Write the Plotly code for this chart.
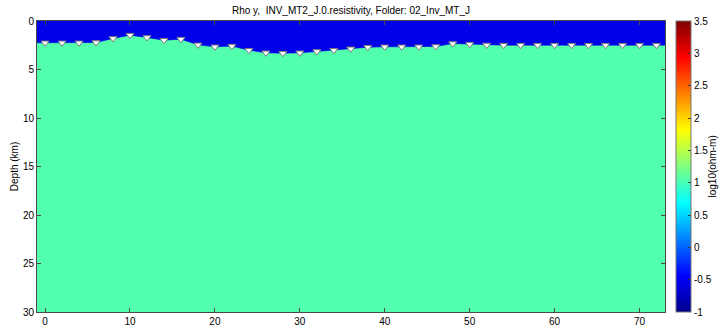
import plotly.graph_objects as go
from plotly.colors import sample_colorscale

# Station positions along the profile (km) and seafloor depth at each site (km)
station_x = [0, 2, 4, 6, 8, 10, 12, 14, 16, 18, 20, 22, 24, 26, 28, 30, 32, 34, 36,
             38, 40, 42, 44, 46, 48, 50, 52, 54, 56, 58, 60, 62, 64, 66, 68, 70, 72]
station_depth = [2.25, 2.25, 2.25, 2.22, 1.80, 1.46, 1.70, 1.98, 1.87, 2.46, 2.66,
                 2.59, 3.01, 3.28, 3.32, 3.28, 3.14, 3.01, 2.87, 2.70, 2.66, 2.66,
                 2.66, 2.63, 2.33, 2.39, 2.47, 2.49, 2.49, 2.49, 2.49, 2.49, 2.49,
                 2.49, 2.49, 2.49, 2.49]

# Model extent
x_limits = [-0.95, 73.0]
depth_limits = [0, 30]

# log10 resistivity of the two model units
seawater_log_rho = -0.55
basement_log_rho = 1.05

# Colour scale limits and colourbar ticks
c_min, c_max = -1.0, 3.5
cbar_ticks = [-1, -0.5, 0, 0.5, 1, 1.5, 2, 2.5, 3, 3.5]
cbar_labels = ["-1", "-0.5", "0", "0.5", "1", "1.5", "2", "2.5", "3", "3.5"]
x_ticks = [0, 10, 20, 30, 40, 50, 60, 70]
y_ticks = [0, 5, 10, 15, 20, 25, 30]

# MATLAB-style jet colormap
jet = [
    [0.0, "rgb(0,0,143)"],
    [0.125, "rgb(0,0,255)"],
    [0.375, "rgb(0,255,255)"],
    [0.625, "rgb(255,255,0)"],
    [0.875, "rgb(255,0,0)"],
    [1.0, "rgb(128,0,0)"],
]

FONT = "Liberation Sans, Arial, Helvetica, sans-serif"
FRAME = "#4a4a4a"

fig = go.Figure()

# Basement: one cell covering the whole section, coloured through the colour scale
fig.add_trace(go.Heatmap(
    x=x_limits,
    y=depth_limits,
    z=[[basement_log_rho]],
    colorscale=jet,
    zmin=c_min,
    zmax=c_max,
    hoverinfo="skip",
    colorbar=dict(
        x=1.0175, xanchor="left", xref="paper", xpad=0,
        y=0.5, yanchor="middle", len=1.0, lenmode="fraction", ypad=0,
        thickness=15, thicknessmode="pixels",
        outlinewidth=1, outlinecolor="#777777",
        ticks="inside", ticklen=3, tickcolor="#333333",
        tickvals=cbar_ticks, ticktext=cbar_labels,
        tickfont=dict(family=FONT, size=10, color="black"),
    ),
))

# Seawater layer above the seafloor
water_color = sample_colorscale(jet, [(seawater_log_rho - c_min) / (c_max - c_min)])[0]
poly_x = [x_limits[0]] + station_x + [x_limits[1], x_limits[1], x_limits[0]]
poly_y = [station_depth[0]] + station_depth + [station_depth[-1], 0, 0]
fig.add_trace(go.Scatter(
    x=poly_x, y=poly_y, mode="lines", fill="toself",
    fillcolor=water_color, line=dict(width=0.6, color=water_color),
    hoverinfo="skip", showlegend=False,
))

# MT stations
fig.add_trace(go.Scatter(
    x=station_x, y=station_depth, mode="markers",
    marker=dict(symbol="triangle-down", size=7, color="white",
                line=dict(color="#7a7a7a", width=1)),
    hoverinfo="skip", showlegend=False,
))

axis_common = dict(
    showgrid=False, zeroline=False, showline=True, linecolor=FRAME, linewidth=1,
    mirror="ticks", ticks="inside", ticklen=4, tickcolor=FRAME,
    tickfont=dict(family=FONT, size=10, color="black"),
)

fig.update_layout(
    width=725, height=326,
    margin=dict(l=37, r=60, t=21, b=14, autoexpand=False),
    paper_bgcolor="white", plot_bgcolor="white",
    font=dict(family=FONT, size=10, color="black"),
    title=dict(text="Rho y,&nbsp; INV_MT2_J.0.resistivity, Folder: 02_Inv_MT_J",
               x=0.5, xref="paper", xanchor="center",
               y=1 - 10 / 326, yref="container", yanchor="middle",
               font=dict(family=FONT, size=10, color="black")),
    xaxis=dict(range=x_limits, tickvals=x_ticks, **axis_common),
    yaxis=dict(range=depth_limits[::-1], tickvals=y_ticks,
               title=dict(text="Depth (km)", standoff=2,
                          font=dict(family=FONT, size=10, color="black")),
               **axis_common),
    annotations=[dict(
        text="log10(ohm-m)", textangle=-90,
        x=712, xref="paper", y=0.5, yref="paper",
        xanchor="center", yanchor="middle", showarrow=False,
        font=dict(family=FONT, size=10, color="black"),
    )],
    showlegend=False,
)

# Place the colourbar title in pixel terms relative to the plot area
plot_left, plot_width = 37, 725 - 37 - 60
fig.layout.annotations[0].x = (712 - plot_left) / plot_width

fig.write_html("out.html")
